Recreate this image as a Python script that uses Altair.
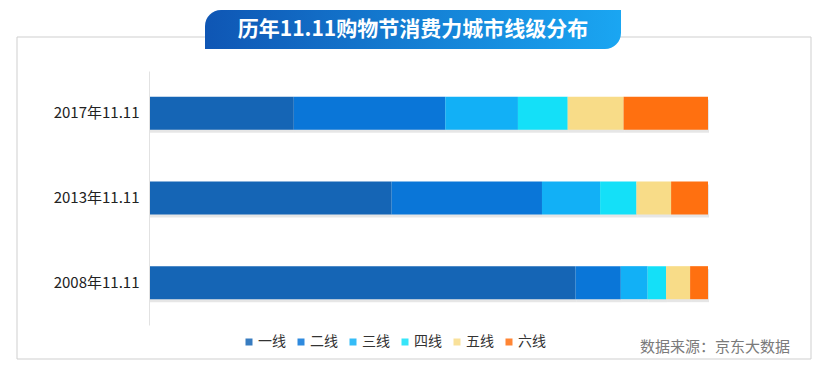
import altair as alt
import pandas as pd

years = ["2017年11.11", "2013年11.11", "2008年11.11"]
tiers = ["一线", "二线", "三线", "四线", "五线", "六线"]
colors = ["#1565b5", "#0a76d8", "#12b0f6", "#14e0f8", "#f8dc88", "#ff7010"]
share_2017 = [25.9, 27.1, 13.0, 8.9, 10.0, 15.1]
share_2013 = [43.4, 26.9, 10.4, 6.5, 6.2, 6.6]
share_2008 = [76.3, 8.1, 4.8, 3.3, 4.3, 3.2]
title_text = "历年11.11购物节消费力城市线级分布"
source_text = "数据来源：京东大数据"

rows = []
for yr, vals in zip(years, [share_2017, share_2013, share_2008]):
    for i, (t, v) in enumerate(zip(tiers, vals)):
        rows.append({"year": yr, "tier": t, "share": v, "order": i})
df = pd.DataFrame(rows)
one = pd.DataFrame({"a": [0]})

FONT = "Noto Sans CJK SC"

frame = alt.Chart(one).mark_rect(fill="transparent", stroke="#cfcfcf", strokeWidth=1).encode(
    x=alt.value(-132), x2=alt.value(662), y=alt.value(-34), y2=alt.value(288)
)

tab = alt.Chart(one).mark_rect(
    color=alt.Gradient(
        gradient="linear",
        stops=[alt.GradientStop(color="#0f56b4", offset=0),
               alt.GradientStop(color="#1aa6f2", offset=1)],
        x1=0, x2=1, y1=0, y2=0,
    ),
    cornerRadiusTopLeft=16, cornerRadiusBottomRight=16,
).encode(x=alt.value(56), x2=alt.value(472), y=alt.value(-61), y2=alt.value(-22))

title = alt.Chart(one).mark_text(
    text=title_text, font=FONT, fontSize=21, fontWeight="bold", color="white",
    align="center", baseline="middle",
).encode(x=alt.value(264), y=alt.value(-41))

source = alt.Chart(one).mark_text(
    text=source_text, font=FONT, fontSize=15, color="#7a7a7a",
    align="right", baseline="middle",
).encode(x=alt.value(641), y=alt.value(276))

ysc = alt.Y("year:N", sort=years, title=None,
            scale=alt.Scale(paddingInner=0, paddingOuter=0),
            axis=alt.Axis(labelFont=FONT, labelFontSize=15, labelColor="#222",
                          ticks=False, domainColor="#e2e2e2", labelPadding=10,
                          zindex=1))
xsc = alt.X("sum(share):Q", stack="zero", title=None,
            scale=alt.Scale(domain=[0, 100], nice=False, zero=True),
            axis=None)

shadow = alt.Chart(df).mark_bar(size=33, color="#b8b8b8", opacity=0.35, yOffset=3, xOffset=1).encode(
    x=xsc, y=ysc, order=alt.Order("order:Q")
)

bars = alt.Chart(df).mark_bar(size=33).encode(
    x=xsc,
    y=ysc,
    color=alt.Color("tier:N", sort=tiers,
                    scale=alt.Scale(domain=tiers, range=colors),
                    legend=alt.Legend(orient="none", legendX=93, legendY=264,
                                      direction="horizontal", title=None,
                                      symbolType="square", symbolSize=49,
                                      symbolStrokeWidth=0, symbolOpacity=0.85,
                                      labelFont=FONT,
                                      labelFontSize=14, labelColor="#333",
                                      labelOffset=2, columnPadding=8)),
    order=alt.Order("order:Q"),
)

chart = alt.layer(frame, tab, title, source, shadow, bars).properties(
    width=559, height=254,
    autosize=alt.AutoSizeParams(type="none"),
    padding={"left": 141, "top": 63, "right": 114, "bottom": 41},
).configure_view(stroke=None)

chart.save("out.html", embed_options={"renderer": "svg", "actions": False})
